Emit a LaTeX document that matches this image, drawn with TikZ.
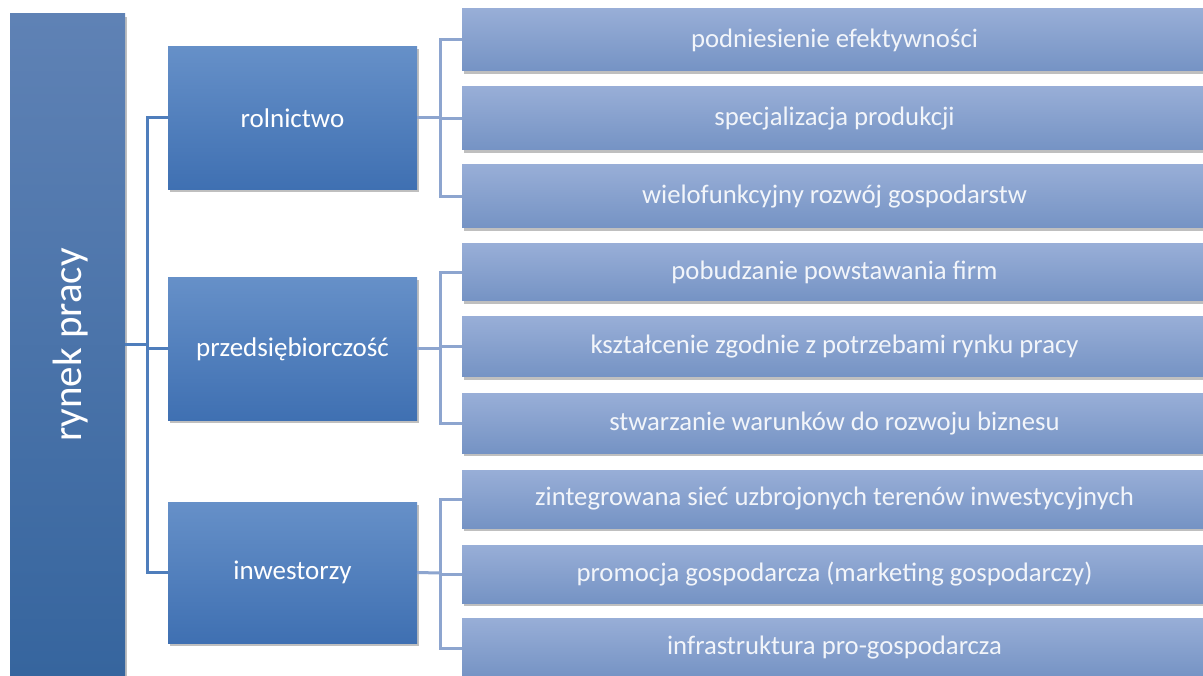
\documentclass[tikz,border=0pt]{standalone}
\usepackage{fontspec}
\setmainfont{Carlito}
\usetikzlibrary{shadows}
\definecolor{ltop}{HTML}{5F82B5}
\definecolor{lbot}{HTML}{36659E}
\definecolor{mtop}{HTML}{6690C8}
\definecolor{mbot}{HTML}{3F70B2}
\definecolor{rtop}{HTML}{98AED7}
\definecolor{rbot}{HTML}{7593C4}
\definecolor{lline}{HTML}{4F7EBC}
\definecolor{rline}{HTML}{8DA5CF}
\definecolor{rtext}{HTML}{F2F5FA}
\begin{document}
\begin{tikzpicture}[x=1pt,y=-1pt,
  base/.style={rectangle, inner sep=0pt, outer sep=0pt, align=center,
    drop shadow={shadow xshift=2pt, shadow yshift=-3pt, opacity=0.25, fill=black}},
  leftbox/.style={base, top color=ltop, bottom color=lbot, minimum width=115pt, minimum height=661pt},
  midbox/.style={base, top color=mtop, bottom color=mbot, minimum width=249pt, minimum height=143pt,
    text=white, font=\fontsize{27}{32}\selectfont},
  rbox/.style={base, top color=rtop, bottom color=rbot, minimum width=745pt, minimum height=#1,
    text=rtext, font=\fontsize{26.7}{32}\selectfont},
  rbox/.default=60pt,
  lconn/.style={draw=lline, line width=3pt},
  rconn/.style={draw=rline, line width=3pt}]
\useasboundingbox (0,0) rectangle (1203,676);
\fill[white] (0,0) rectangle (1203,676);

\coordinate (ja) at (147,118);
\coordinate (jb) at (440,118);
\coordinate (jc) at (440,349);
\coordinate (jd) at (440,573);

% left box
\node[leftbox] (L) at (67.5,344.5) {};
\node[rotate=90, text=white, font=\fontsize{41}{48}\selectfont, inner sep=0pt] (Lt) at (71,345) {rynek pracy};

% middle boxes
\node[midbox] (m1) at (292.5,118) {rolnictwo};
\node[midbox] (m2) at (292.5,349) {przedsiębiorczość};
\node[midbox, minimum height=141pt] (m3) at (292.5,572.5) {inwestorzy};

% right boxes
\node[rbox=62pt] (r1) at (834.5,40) {podniesienie efektywności};
\node[rbox=63pt] (r2) at (834.5,118.5) {specjalizacja produkcji};
\node[rbox=63pt] (r3) at (834.5,196.5) {wielofunkcyjny rozwój gospodarstw};
\node[rbox=57pt] (r4) at (834.5,272.5) {pobudzanie powstawania firm};
\node[rbox=60pt] (r5) at (834.5,347) {kształcenie zgodnie z potrzebami rynku pracy};
\node[rbox=59pt] (r6) at (834.5,423.5) {stwarzanie warunków do rozwoju biznesu};
\node[rbox=58pt] (r7) at (834.5,499) {zintegrowana sieć uzbrojonych terenów inwestycyjnych};
\node[rbox=58pt] (r8) at (834.5,574) {promocja gospodarcza (marketing gospodarczy)};
\node[rbox=60pt] (r9) at (834.5,648) {infrastruktura pro-gospodarcza};

% left connectors
\draw[lconn] (L.east) -- (L.east -| ja);
\draw[lconn] (m1.west) -- (ja) |- (m3.west);
\draw[lconn] (ja |- m2.west) -- (m2.west);

% right connectors
\draw[rconn] (r1.west) -| (jb |- r3.west) -- (r3.west);
\draw[rconn] (m1.east) -- (jb);
\draw[rconn] (jb |- r2.west) -- (r2.west);
\draw[rconn] (r4.west) -| (jc |- r6.west) -- (r6.west);
\draw[rconn] (m2.east) -- (jc);
\draw[rconn] (jc |- r5.west) -- (r5.west);
\draw[rconn] (r7.west) -| (jd |- r9.west) -- (r9.west);
\draw[rconn] (m3.east) -- (jd);
\draw[rconn] (jd |- r8.west) -- (r8.west);
\end{tikzpicture}
\end{document}
